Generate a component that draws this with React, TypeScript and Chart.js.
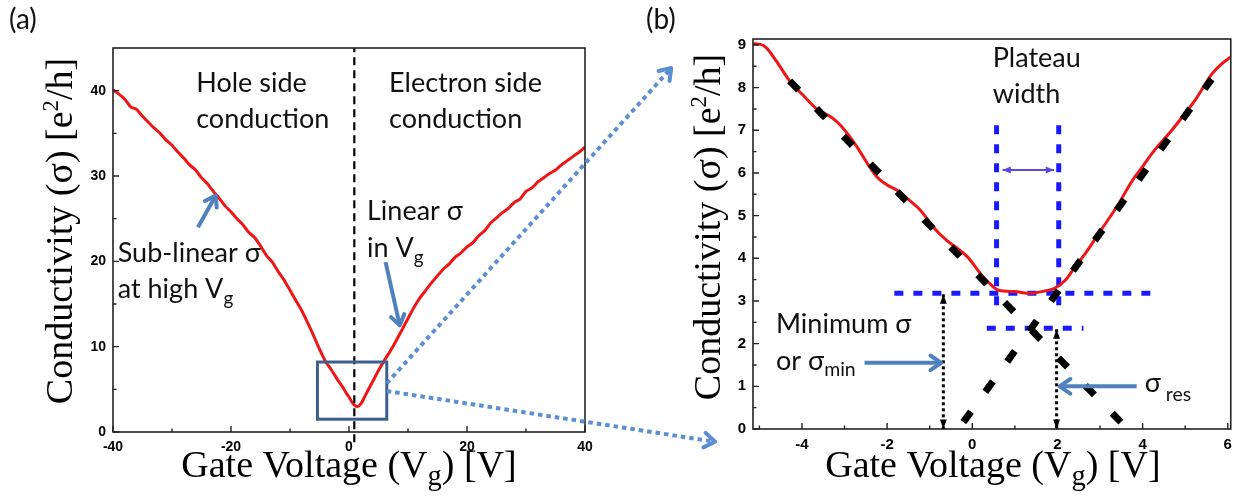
import { useEffect, useRef } from 'react';
import { Chart, registerables } from 'chart.js';
Chart.register(...registerables);

const W = 1239;
const H = 502;

// ---------- Panel (a): full gate sweep ----------
const vgA = [-40, -39, -38, -37, -36, -35, -34, -33, -32, -31, -30, -29, -28, -27, -26, -25, -24, -23, -22, -21, -20, -19, -18, -17, -16, -15, -14, -13, -12, -11, -10, -9, -8, -7, -6, -5, -4, -3, -2, -1, -0.5, 0, 0.5, 1, 1.5, 2, 2.5, 3, 4, 5, 6, 7, 8, 9, 10, 11, 12, 13, 14, 15, 16, 17, 18, 19, 20, 21, 22, 23, 24, 25, 26, 27, 28, 29, 30, 31, 32, 33, 34, 35, 36, 37, 38, 39, 40];
const sigmaA = [40.1, 39.6, 39.0, 38.1, 37.8, 37.0, 36.3, 35.6, 35.0, 34.2, 33.6, 32.8, 32.1, 31.3, 30.7, 29.8, 29.1, 28.2, 27.4, 26.5, 25.8, 25.0, 24.3, 23.4, 22.8, 21.8, 20.7, 19.9, 18.8, 17.8, 16.6, 15.4, 14.2, 12.8, 11.3, 9.7, 8.3, 7.3, 6.2, 5.2, 4.6, 4.1, 3.5, 3.1, 3.0, 3.3, 3.9, 4.6, 5.9, 7.2, 8.4, 9.5, 10.7, 12.0, 13.3, 14.6, 15.7, 16.6, 17.5, 18.3, 19.1, 19.7, 20.5, 21.0, 21.7, 22.2, 23.0, 23.6, 24.5, 25.1, 25.7, 26.2, 26.9, 27.3, 28.2, 28.6, 29.3, 29.8, 30.3, 30.7, 31.3, 31.8, 32.3, 32.8, 33.4];
const xTicksA = [-40, -20, 0, 20, 40];
const yTicksA = [0, 10, 20, 30, 40];
const xMinorA = [-30, -10, 10, 30];
const yMinorA = [5, 15, 25, 35];
const diracX = [0.9, 0.9];
const diracY = [-1.2, 45];
const zoomBoxX = [-5.35, 6.4];
const zoomBoxY = [1.5, 8.2];

// ---------- Panel (b): zoom around the Dirac point ----------
const vgB = [-5.15, -5.0, -4.84, -4.6, -4.29, -4.0, -3.64, -3.3, -3.08, -2.72, -2.45, -2.25, -2.0, -1.79, -1.5, -1.23, -0.86, -0.6, -0.4, -0.12, 0.25, 0.45, 0.62, 0.99, 1.36, 1.73, 1.92, 2.19, 2.4, 2.66, 3.03, 3.4, 3.77, 4.0, 4.23, 4.7, 5.0, 5.25, 5.62, 5.85, 6.07];
const sigmaB = [9.03, 9.02, 8.94, 8.62, 8.16, 7.85, 7.49, 7.3, 7.1, 6.63, 6.2, 5.92, 5.72, 5.61, 5.38, 5.14, 4.67, 4.42, 4.27, 4.04, 3.57, 3.37, 3.25, 3.22, 3.18, 3.24, 3.29, 3.49, 3.78, 4.12, 4.67, 5.22, 5.84, 6.15, 6.47, 7.02, 7.4, 7.73, 8.31, 8.55, 8.72];
const fitHoleX = [-4.29, 3.49];
const fitHoleY = [8.16, 0.16];
const fitElecX = [-0.21, 5.62];
const fitElecY = [0.16, 8.2];
const xTicksB = [-4, -2, 0, 2, 4, 6];
const yTicksB = [0, 1, 2, 3, 4, 5, 6, 7, 8, 9];
const xMinorB = [-5, -3, -1, 1, 3, 5];
const yMinorB = [0.5, 1.5, 2.5, 3.5, 4.5, 5.5, 6.5, 7.5, 8.5];
const sigmaMinLevel = 3.18;
const sigmaResLevel = 2.36;
const minLineX = [-1.83, 4.28];
const resLineX = [0.34, 2.61];
const plateauX = [0.57, 2.03];
const plateauY = [7.12, 2.71];
const minArrowX = -0.68;
const resArrowX = 1.98;

const SERIF = '"Liberation Serif", "Times New Roman", serif';
const SANS = 'Lato, "Open Sans", sans-serif';
const TICKFONT = '"Liberation Sans", Arial, sans-serif';
const RED = '#ee1616';
const STEEL = '#4f81bd';

type Part = [string, number, number];

function drawRuns(ctx: CanvasRenderingContext2D, x: number, y: number, parts: Part[], size: number, family: string, color: string, align: 'left' | 'center' = 'left') {
  ctx.save();
  ctx.fillStyle = color;
  ctx.textBaseline = 'alphabetic';
  ctx.textAlign = 'left';
  let total = 0;
  const widths = parts.map(([t, s]) => {
    ctx.font = `${size * s}px ${family}`;
    const w = ctx.measureText(t).width;
    total += w;
    return w;
  });
  let cx = align === 'center' ? x - total / 2 : x;
  parts.forEach(([t, s, dy], i) => {
    ctx.font = `${size * s}px ${family}`;
    ctx.fillText(t, cx, y + dy * size);
    cx += widths[i];
  });
  ctx.restore();
}

type ArrowOpts = { color: string; width: number; dash?: number[]; head: number; spread?: number; filled?: boolean; both?: boolean };

function drawArrow(ctx: CanvasRenderingContext2D, x1: number, y1: number, x2: number, y2: number, o: ArrowOpts) {
  ctx.save();
  ctx.strokeStyle = o.color;
  ctx.fillStyle = o.color;
  ctx.lineWidth = o.width;
  ctx.setLineDash(o.dash || []);
  ctx.beginPath();
  ctx.moveTo(x1, y1);
  ctx.lineTo(x2, y2);
  ctx.stroke();
  ctx.setLineDash([]);
  const s = o.spread ?? 0.5;
  const heads = o.both ? [[x2, y2, x1, y1], [x1, y1, x2, y2]] : [[x2, y2, x1, y1]];
  for (const [tx, ty, fx, fy] of heads) {
    const a = Math.atan2(ty - fy, tx - fx);
    const p1x = tx - o.head * Math.cos(a - s);
    const p1y = ty - o.head * Math.sin(a - s);
    const p2x = tx - o.head * Math.cos(a + s);
    const p2y = ty - o.head * Math.sin(a + s);
    ctx.beginPath();
    ctx.moveTo(p1x, p1y);
    ctx.lineTo(tx, ty);
    ctx.lineTo(p2x, p2y);
    if (o.filled) {
      ctx.closePath();
      ctx.fill();
    } else {
      ctx.lineCap = 'round';
      ctx.lineJoin = 'round';
      ctx.stroke();
    }
  }
  ctx.restore();
}

function frameAndTicks(chart: any, xMaj: number[], xMin: number[], yMaj: number[], yMin: number[]) {
  const { ctx, chartArea: ca, scales } = chart;
  const x = scales.x;
  const y = scales.y;
  ctx.save();
  ctx.strokeStyle = '#222';
  ctx.lineWidth = 1.6;
  ctx.strokeRect(ca.left, ca.top, ca.right - ca.left, ca.bottom - ca.top);
  ctx.lineWidth = 1.4;
  ctx.beginPath();
  xMaj.forEach((v) => { const p = x.getPixelForValue(v); ctx.moveTo(p, ca.bottom); ctx.lineTo(p, ca.bottom - 6); });
  xMin.forEach((v) => { const p = x.getPixelForValue(v); ctx.moveTo(p, ca.bottom); ctx.lineTo(p, ca.bottom - 3.5); });
  yMaj.forEach((v) => { const p = y.getPixelForValue(v); ctx.moveTo(ca.left, p); ctx.lineTo(ca.left + 6, p); });
  yMin.forEach((v) => { const p = y.getPixelForValue(v); ctx.moveTo(ca.left, p); ctx.lineTo(ca.left + 3.5, p); });
  ctx.stroke();
  ctx.restore();
}

function axisTitles(chart: any, xOff: number, yTitleX: number, yTitleDy: number) {
  const { ctx, chartArea: ca } = chart;
  const cx = (ca.left + ca.right) / 2 + xOff;
  drawRuns(ctx, cx, 477, [['Gate Voltage (V', 1, 0], ['g', 0.75, 0.2], [') [V]', 1, 0]], 38, SERIF, '#000', 'center');
  ctx.save();
  ctx.translate(ca.left - yTitleX, (ca.top + ca.bottom) / 2 + yTitleDy);
  ctx.rotate(-Math.PI / 2);
  drawRuns(ctx, 0, 0, [['Conductivity (σ) [e', 1, 0], ['2', 0.6, -0.38], ['/h]', 1, 0]], 38, SERIF, '#000', 'center');
  ctx.restore();
}

const pts = (xs: number[], ys: number[]) => xs.map((v, i) => ({ x: v, y: ys[i] }));

function scaleOpts(min: number, max: number, ticks: number[], fontSize: number, fit: (s: any) => void) {
  return {
    type: 'linear' as const,
    min,
    max,
    grid: { display: false, drawTicks: false },
    border: { display: false },
    ticks: { color: '#000', padding: 7, autoSkip: false, maxRotation: 0, font: { family: TICKFONT, weight: 'bold' as const, size: fontSize } },
    afterBuildTicks: (s: any) => { s.ticks = ticks.map((v) => ({ value: v })); },
    afterFit: fit,
  };
}

export default function App() {
  const refA = useRef<HTMLCanvasElement>(null);
  const refB = useRef<HTMLCanvasElement>(null);

  useEffect(() => {
    document.body.style.margin = '0';

    const annotA = {
      id: 'annotA',
      afterDraw(chart: any) {
        const { ctx, scales } = chart;
        const x = scales.x;
        const y = scales.y;
        frameAndTicks(chart, xTicksA, xMinorA, yTicksA, yMinorA);
        // zoom box
        ctx.save();
        ctx.strokeStyle = '#3e5f8c';
        ctx.lineWidth = 3;
        const bx0 = x.getPixelForValue(zoomBoxX[0]);
        const bx1 = x.getPixelForValue(zoomBoxX[1]);
        const by0 = y.getPixelForValue(zoomBoxY[0]);
        const by1 = y.getPixelForValue(zoomBoxY[1]);
        ctx.strokeRect(bx0, by1, bx1 - bx0, by0 - by1);
        ctx.restore();
        // arrows
        drawArrow(ctx, x.getPixelForValue(-25.6), y.getPixelForValue(24.0), x.getPixelForValue(-22.6), y.getPixelForValue(27.7), { color: STEEL, width: 4, head: 12, spread: 0.6 });
        drawArrow(ctx, x.getPixelForValue(6.2), y.getPixelForValue(19.9), x.getPixelForValue(8.6), y.getPixelForValue(12.5), { color: STEEL, width: 4, head: 12, spread: 0.6 });
        // texts
        const t = (s: Part[], vx: number, vy: number) => drawRuns(ctx, x.getPixelForValue(vx), y.getPixelForValue(vy), s, 27, SANS, '#111');
        t([['Hole side', 1, 0]], -25.9, 39.8);
        t([['conduction', 1, 0]], -25.9, 35.6);
        t([['Electron side', 1, 0]], 6.8, 39.8);
        t([['conduction', 1, 0]], 6.8, 35.6);
        t([['Linear σ', 1, 0]], 3.05, 24.8);
        t([['in V', 1, 0], ['g', 0.7, 0.25]], 3.05, 20.5);
        t([['Sub-linear σ', 1, 0]], -39.2, 19.9);
        t([['at high V', 1, 0], ['g', 0.7, 0.25]], -39.2, 15.7);
        drawRuns(ctx, 9, 29, [['(a)', 1, 0]], 28, SANS, '#111');
        axisTitles(chart, 0, 41, -9);
      },
    };

    const a = new Chart(refA.current!, {
      type: 'line',
      data: {
        datasets: [
          { data: pts(diracX, diracY), borderColor: '#000', borderWidth: 2.2, borderDash: [8, 5], pointRadius: 0, clip: false } as any,
          { data: pts(vgA, sigmaA), borderColor: RED, borderWidth: 3, pointRadius: 0, tension: 0.2 },
        ],
      },
      options: {
        responsive: false,
        animation: false,
        events: [],
        layout: { padding: { left: 0, right: W - 585, top: 48, bottom: 0 } },
        plugins: { legend: { display: false }, tooltip: { enabled: false } },
        scales: {
          x: scaleOpts(-40, 40, xTicksA, 14, (s: any) => { s.height = 70; }),
          y: scaleOpts(0, 45, yTicksA, 14, (s: any) => { s.width = 113; }),
        },
      },
      plugins: [annotA],
    });

    const annotB = {
      id: 'annotB',
      afterDraw(chart: any) {
        const { ctx, scales } = chart;
        const x = scales.x;
        const y = scales.y;
        frameAndTicks(chart, xTicksB, xMinorB, yTicksB, yMinorB);
        const X = (v: number) => x.getPixelForValue(v);
        const Y = (v: number) => y.getPixelForValue(v);
        // plateau width arrow
        drawArrow(ctx, X(0.71), Y(6.07), X(1.92), Y(6.07), { color: '#5a48e0', width: 1.8, head: 9, spread: 0.4, filled: true, both: true });
        // black dotted arrows
        drawArrow(ctx, X(minArrowX), Y(sigmaMinLevel) + 1, X(minArrowX), Y(0), { color: '#000', width: 3, dash: [3, 3], head: 10, spread: 0.35, filled: true, both: true });
        drawArrow(ctx, X(resArrowX), Y(sigmaResLevel) + 1, X(resArrowX), Y(0), { color: '#000', width: 3, dash: [3, 3], head: 10, spread: 0.35, filled: true, both: true });
        // steel-blue pointers
        drawArrow(ctx, X(-2.53), Y(1.55), X(-0.73), Y(1.55), { color: STEEL, width: 4, head: 13, spread: 0.6 });
        drawArrow(ctx, X(3.86), Y(1.0), X(2.05), Y(1.0), { color: STEEL, width: 4, head: 13, spread: 0.6 });
        // texts
        const t = (s: Part[], vx: number, vy: number) => drawRuns(ctx, X(vx), Y(vy), s, 27, SANS, '#111');
        t([['Plateau', 1, 0]], 0.48, 8.48);
        t([['width', 1, 0]], 0.48, 7.64);
        t([['Minimum σ', 1, 0]], -4.61, 2.25);
        t([['or σ', 1, 0], ['min', 0.72, 0.2]], -4.61, 1.38);
        t([['σ', 1, 0], [' res', 0.72, 0.32]], 4.05, 0.87);
        drawRuns(ctx, 646, 29, [['(b)', 1, 0]], 28, SANS, '#111');
        axisTitles(chart, 1, 33, -7);
        // connectors from the zoom box in panel (a)
        const ax = a.scales.x;
        const ay = a.scales.y;
        const conn = { color: '#5b8fd2', width: 4, dash: [4.5, 4], head: 13, spread: 0.6 };
        drawArrow(ctx, ax.getPixelForValue(zoomBoxX[1]), ay.getPixelForValue(5.7), X(-7.07), Y(8.46), conn);
        drawArrow(ctx, ax.getPixelForValue(zoomBoxX[1]), ay.getPixelForValue(4.8), X(-6.04), Y(-0.3), conn);
      },
    };

    const blue = { borderColor: '#1a1aff', borderWidth: 5, borderDash: [9, 10], pointRadius: 0 };
    const b = new Chart(refB.current!, {
      type: 'line',
      data: {
        datasets: [
          { data: pts(fitHoleX, fitHoleY), borderColor: '#000', borderWidth: 7, borderDash: [13, 25.6], pointRadius: 0 },
          { data: pts(fitElecX, fitElecY), borderColor: '#000', borderWidth: 7, borderDash: [13, 24.4], pointRadius: 0 },
          { data: pts(vgB, sigmaB), borderColor: RED, borderWidth: 3, pointRadius: 0, cubicInterpolationMode: 'monotone' },
          { data: pts(minLineX, [sigmaMinLevel, sigmaMinLevel]), ...blue },
          { data: pts(resLineX, [sigmaResLevel, sigmaResLevel]), ...blue },
          { data: pts([plateauX[0], plateauX[0]], plateauY), ...blue },
          { data: pts([plateauX[1], plateauX[1]], plateauY), ...blue },
        ],
      },
      options: {
        responsive: false,
        animation: false,
        events: [],
        layout: { padding: { left: 620, right: 7, top: 39, bottom: 0 } },
        plugins: { legend: { display: false }, tooltip: { enabled: false } },
        scales: {
          x: scaleOpts(-5.15, 6.07, xTicksB, 15, (s: any) => { s.height = 73; }),
          y: scaleOpts(0, 9.14, yTicksB, 15, (s: any) => { s.width = 133; }),
        },
      },
      plugins: [annotB],
    });

    return () => {
      b.destroy();
      a.destroy();
    };
  }, []);

  return (
    <div style={{ position: 'relative', width: W, height: H, background: '#fff' }}>
      <canvas ref={refA} width={W} height={H} style={{ position: 'absolute', left: 0, top: 0 }} />
      <canvas ref={refB} width={W} height={H} style={{ position: 'absolute', left: 0, top: 0 }} />
    </div>
  );
}
